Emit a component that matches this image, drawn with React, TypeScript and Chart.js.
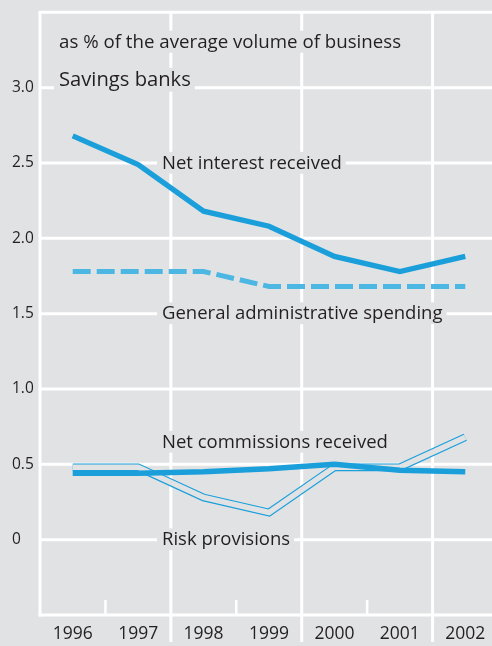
import React, { useEffect, useRef } from "react";
import { Chart, registerables } from "chart.js";

Chart.register(...registerables);

// ---- data ----
const years = ["1996", "1997", "1998", "1999", "2000", "2001", "2002"];
const netInterest = [2.68, 2.49, 2.18, 2.08, 1.88, 1.78, 1.88];
const adminSpending = [1.78, 1.78, 1.78, 1.68, 1.68, 1.68, 1.68];
const netCommissions = [0.44, 0.44, 0.45, 0.47, 0.5, 0.46, 0.45];
const riskProvisions = [0.48, 0.48, 0.28, 0.18, 0.48, 0.48, 0.68];
const yTickValues = [0, 0.5, 1, 1.5, 2, 2.5, 3];
const yMin = -0.5;
const yMax = 3.5;

// ---- styles ----
const BG = "#e1e2e4";
const BLUE = "#1a9fdb";
const LIGHT_BLUE = "#4cb7e3";
const TEXT = "#231f20";
const FONT = "'Open Sans', 'Noto Sans', sans-serif";

type Note = { text: string; x: number; y: number; size: number };
const notes: Note[] = [
  { text: "as % of the average volume of business", x: 59, y: 47.5, size: 18.7 },
  { text: "Savings banks", x: 59, y: 86, size: 20.2 },
  { text: "Net interest received", x: 162, y: 168.5, size: 18.5 },
  { text: "General administrative spending", x: 162, y: 319, size: 18.5 },
  { text: "Net commissions received", x: 162, y: 447.5, size: 18.5 },
  { text: "Risk provisions", x: 162, y: 545, size: 18.5 },
];

const decor = {
  id: "decor",
  beforeDraw(chart: any) {
    const { ctx, width, height } = chart;
    ctx.save();
    ctx.fillStyle = BG;
    ctx.fillRect(0, 0, width, height);
    ctx.restore();
  },
  beforeDatasetsDraw(chart: any) {
    const { ctx, chartArea, scales } = chart;
    const xs = scales.x;
    const ys = scales.y;
    const { left, right } = chartArea;
    const top = ys.getPixelForValue(yMax);
    const bottom = ys.getPixelForValue(yMin);
    ctx.save();
    ctx.strokeStyle = "#ffffff";
    ctx.lineCap = "butt";
    ctx.lineWidth = 3;
    const line = (x1: number, y1: number, x2: number, y2: number) => {
      ctx.beginPath();
      ctx.moveTo(x1, y1);
      ctx.lineTo(x2, y2);
      ctx.stroke();
    };
    // horizontal gridlines
    for (const v of yTickValues) {
      const py = ys.getPixelForValue(v);
      line(left, py, right, py);
    }
    // frame
    line(left - 1.5, top, right, top);
    line(left - 1.5, bottom, right, bottom);
    line(left, top, left, bottom + 1.5);
    // vertical gridlines / ticks at category boundaries
    const half = (xs.getPixelForValue(1) - xs.getPixelForValue(0)) / 2;
    for (let b = 1; b < years.length; b++) {
      const bx = xs.getPixelForValue(b) - half;
      if (b % 2 === 0) {
        ctx.lineWidth = 3;
        line(bx, top, bx, bottom + 27);
      } else {
        ctx.lineWidth = 2.5;
        line(bx, bottom - 15, bx, bottom);
      }
    }
    // annotation labels with background boxes
    ctx.textBaseline = "alphabetic";
    ctx.textAlign = "left";
    for (const n of notes) {
      ctx.font = `${n.size}px ${FONT}`;
      const w = ctx.measureText(n.text).width;
      ctx.fillStyle = BG;
      ctx.fillRect(n.x - 5, n.y - n.size * 0.9, w + 9, n.size * 1.18);
      ctx.fillStyle = TEXT;
      ctx.fillText(n.text, n.x, n.y);
    }
    ctx.restore();
  },
};

export default function App() {
  const ref = useRef<HTMLCanvasElement | null>(null);

  useEffect(() => {
    if (!ref.current) return;
    const chart = new Chart(ref.current, {
      type: "line",
      data: {
        labels: years,
        datasets: [
          {
            label: "Net commissions received",
            data: netCommissions,
            borderColor: BLUE,
            borderWidth: 5.5,
            order: 0,
          },
          {
            label: "Risk provisions (inner)",
            data: riskProvisions,
            borderColor: BG,
            borderWidth: 5.5,
            order: 1,
          },
          {
            label: "Risk provisions",
            data: riskProvisions,
            borderColor: BLUE,
            borderWidth: 7.8,
            order: 2,
          },
          {
            label: "General administrative spending",
            data: adminSpending,
            borderColor: LIGHT_BLUE,
            borderWidth: 5,
            borderDash: [18, 6],
            order: 3,
          },
          {
            label: "Net interest received",
            data: netInterest,
            borderColor: BLUE,
            borderWidth: 5.3,
            order: 4,
          },
        ],
      },
      options: {
        animation: false,
        responsive: false,
        maintainAspectRatio: false,
        devicePixelRatio: 1,
        layout: { padding: { left: 12, top: 9.5, right: 2, bottom: 0 } },
        plugins: {
          legend: { display: false },
          tooltip: { enabled: false },
        },
        elements: {
          point: { radius: 0 },
          line: {
            tension: 0,
            borderCapStyle: "butt",
            borderJoinStyle: "miter",
            fill: false,
          },
        },
        scales: {
          x: {
            type: "category",
            offset: true,
            grid: { display: false, drawTicks: false },
            border: { display: false },
            ticks: {
              color: TEXT,
              font: { size: 17.5, family: FONT },
              padding: 9,
              maxRotation: 0,
              autoSkip: false,
            },
            afterFit(s: any) {
              s.height = 31;
            },
          },
          y: {
            type: "linear",
            min: yMin,
            max: yMax,
            grid: { display: false, drawTicks: false },
            border: { display: false },
            afterBuildTicks(s: any) {
              s.ticks = yTickValues.map((value) => ({ value }));
            },
            ticks: {
              crossAlign: "far",
              color: TEXT,
              font: { size: 15.5, family: FONT },
              callback: (v: any) => (Number(v) === 0 ? "0" : Number(v).toFixed(1)),
            },
            afterFit(s: any) {
              s.width = 28;
            },
          },
        },
      },
      plugins: [decor],
    } as any);
    return () => chart.destroy();
  }, []);

  return (
    <div
      style={{
        position: "fixed",
        left: 0,
        top: 0,
        width: 492,
        height: 646,
        overflow: "hidden",
        background: BG,
      }}
    >
      <canvas ref={ref} width={500} height={646} style={{ display: "block" }} />
    </div>
  );
}
